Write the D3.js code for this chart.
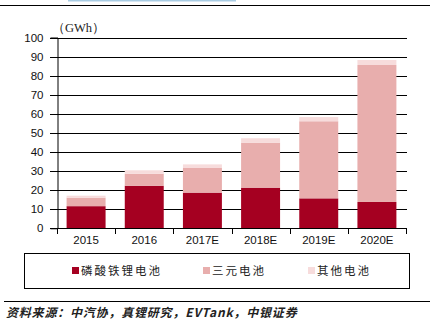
<!DOCTYPE html>
<html><head><meta charset="utf-8">
<script src="https://cdn.jsdelivr.net/npm/d3@7"></script>
<style>body{margin:0;background:#fff}svg{display:block}</style>
</head><body>
<script>
const categories = ["2015","2016","2017E","2018E","2019E","2020E"];
const lfp   = [11.6, 22.3, 18.7, 21.3, 15.7, 13.8];
const ncm   = [4.4, 6.3, 12.9, 23.6, 40.4, 71.8];
const other = [1.1, 1.8, 1.9, 2.3, 2.2, 2.6];
const seriesNames = ["磷酸铁锂电池","三元电池","其他电池"];
const colors = ["#A50021","#E8AEAD","#F7DCDC"];
const yTicks = [0,10,20,30,40,50,60,70,80,90,100];

const W=436,H=329;
const svg=d3.select("body").append("svg").attr("width",W).attr("height",H);
// header lines
svg.append("rect").attr("x",68).attr("y",0).attr("width",168).attr("height",1.5).attr("fill","#A9CCE3");
svg.append("line").attr("x1",0).attr("x2",430).attr("y1",5.5).attr("y2",5.5).attr("stroke","#000").attr("stroke-width",1);

const x=d3.scaleBand().domain(categories).range([57,406]).paddingInner(0.33).paddingOuter(0.165);
const y=d3.scaleLinear().domain([0,100]).range([228.3,37.5]);

// gridlines
svg.append("g").selectAll("line").data(yTicks.filter(d=>d>0)).join("line")
  .attr("x1",50).attr("x2",407).attr("y1",d=>Math.round(y(d))+0.5).attr("y2",d=>Math.round(y(d))+0.5)
  .attr("stroke","#000").attr("stroke-width",1);

// stacks
const data=categories.map((c,i)=>({cat:c,a:lfp[i],b:ncm[i],c:other[i]}));
const stack=d3.stack().keys(["a","b","c"])(data);
svg.append("g").selectAll("g").data(stack).join("g").attr("fill",(d,i)=>colors[i])
  .selectAll("rect").data(d=>d).join("rect")
  .attr("x",d=>x(d.data.cat)).attr("width",x.bandwidth())
  .attr("y",d=>y(d[1])).attr("height",d=>y(d[0])-y(d[1]));

// y axis
const ya=svg.append("g").attr("transform","translate(57.5,0)")
  .call(d3.axisLeft(y).tickValues(yTicks).tickSize(7).tickPadding(7));
ya.select(".domain").attr("stroke","#000");
ya.selectAll(".tick line").remove();
ya.selectAll("text").attr("font-family","Liberation Sans, Arial").attr("font-size",11.5).attr("fill","#111");

// x axis
const xa=svg.append("g").attr("transform","translate(0,228.5)")
  .call(d3.axisBottom(x).tickSize(0).tickPadding(7));
xa.select(".domain").attr("stroke","#000").attr("d","M50,0H407");
xa.selectAll("text").attr("font-family","Liberation Sans, Arial").attr("font-size",11.5).attr("fill","#111");
const bounds=categories.map(c=>x(c)-x.step()*x.paddingInner()/2).concat([x(categories[5])+x.bandwidth()+x.step()*x.paddingInner()/2]);
svg.append("g").selectAll("line").data(bounds).join("line")
  .attr("x1",d=>Math.round(d)+0.5).attr("x2",d=>Math.round(d)+0.5).attr("y1",228).attr("y2",234)
  .attr("stroke","#000");

// unit
svg.append("text").attr("x",52).attr("y",32).text("（GWh）")
  .attr("font-family","Liberation Serif, Times New Roman, serif").attr("font-size",12.5).attr("fill","#222");

// legend
svg.append("rect").attr("x",24.5).attr("y",253.5).attr("width",385).attr("height",35).attr("fill","none").attr("stroke","#000");
const lx=[72,203,308];
const lg=svg.append("g").selectAll("g").data(seriesNames).join("g").attr("transform",(d,i)=>`translate(${lx[i]},0)`);
lg.append("rect").attr("x",0).attr("y",267).attr("width",7).attr("height",7).attr("fill",(d,i)=>colors[i]);
lg.append("text").attr("x",9).attr("y",275).text(d=>d)
  .attr("font-family","Noto Sans CJK SC").attr("font-size",11.5).attr("letter-spacing",2).attr("fill","#222");

// footer
svg.append("line").attr("x1",4).attr("x2",430).attr("y1",301.5).attr("y2",301.5).attr("stroke","#000");
svg.append("text").attr("x",6).attr("y",317).text("资料来源：中汽协，真锂研究，EVTank，中银证券")
  .attr("font-family","Noto Sans CJK SC").attr("font-size",12).attr("font-style","italic").attr("font-weight","bold")
  .attr("letter-spacing",0.8).attr("fill","#222");
</script>
</body></html>
